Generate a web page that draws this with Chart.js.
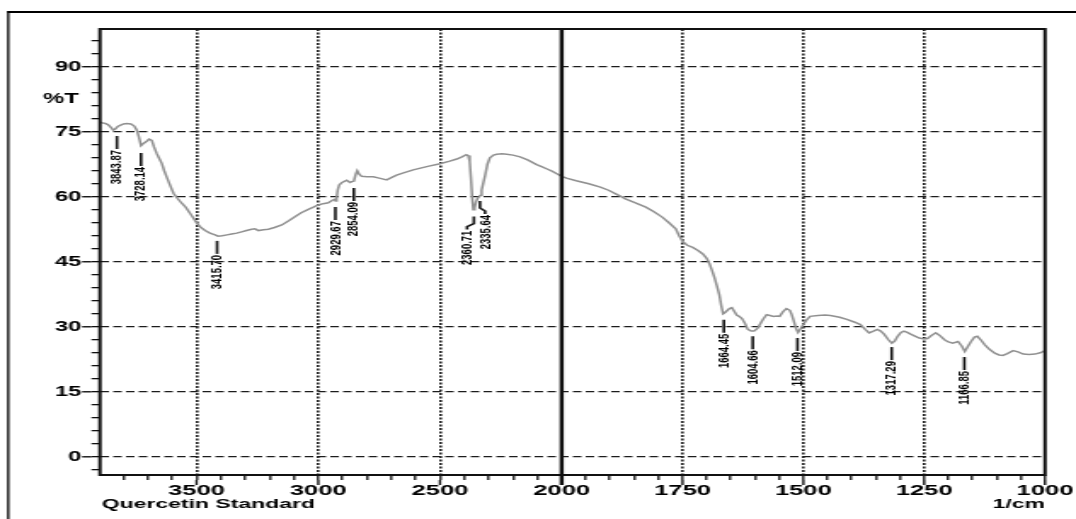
<!DOCTYPE html>
<html>
<head>
<meta charset="utf-8">
<title>Quercetin Standard</title>
<script src="https://cdn.jsdelivr.net/npm/chart.js@4.4.1/dist/chart.umd.min.js"></script>
<style>
    html, body { margin: 0; padding: 0; background: #fff; overflow: hidden; }
    /* the original print is stretched sideways, so the canvas is drawn narrow and widened */
    #wrap { width: 632px; height: 519px; transform: scaleX(1.7025); transform-origin: 0 0; }
</style>
</head>
<body>
<div id="wrap"><canvas id="myChart" width="632" height="519"></canvas></div>
<script>
// spectrum, 3897 - 2000 1/cm (compressed half of the axis)
const wnLeft = [
    3897, 3891, 3875, 3863, 3850, 3843, 3835, 3824, 3812, 3800,
    3787, 3770, 3756, 3746, 3737, 3728, 3718, 3705, 3695, 3684,
    3675, 3664, 3655, 3643, 3633, 3623, 3610, 3595, 3578, 3561,
    3545, 3527, 3512, 3499, 3482, 3465, 3445, 3424, 3412, 3395,
    3375, 3356, 3335, 3315, 3295, 3274, 3260, 3246, 3225, 3205,
    3180, 3150, 3120, 3096, 3070, 3041, 3020, 3000, 2980, 2959,
    2942, 2933, 2929, 2925, 2920, 2914, 2905, 2895, 2883, 2870,
    2862, 2854, 2846, 2840, 2832, 2822, 2800, 2774, 2750, 2719,
    2700, 2678, 2650, 2610, 2580, 2550, 2500, 2460, 2431, 2410,
    2392, 2384, 2378, 2373, 2368, 2363, 2358, 2352, 2346, 2340,
    2335, 2329, 2322, 2315, 2305, 2295, 2280, 2267, 2245, 2226,
    2200, 2171, 2140, 2103, 2080, 2060, 2040, 2020, 2000
]
const tLeft = [
    77.2, 77.1, 76.9, 76.6, 75.9, 75.4, 75.6, 76.2, 76.5, 76.8,
    76.9, 76.8, 76.3, 75.4, 73.8, 71.8, 72.3, 72.8, 73.3, 73.0,
    71.5, 70.0, 69.0, 67.7, 66.0, 64.6, 62.8, 60.8, 59.6, 58.5,
    57.6, 56.2, 55.0, 53.9, 52.9, 52.2, 51.6, 51.2, 50.9, 51.0,
    51.2, 51.4, 51.6, 51.9, 52.2, 52.5, 52.6, 52.2, 52.4, 52.5,
    52.9, 53.5, 54.5, 55.4, 56.3, 57.1, 57.6, 58.1, 58.4, 58.6,
    59.2, 59.4, 59.0, 59.6, 61.6, 62.7, 63.2, 63.5, 63.8, 63.3,
    63.5, 63.6, 65.2, 66.0, 65.2, 64.7, 64.6, 64.6, 64.3, 63.9,
    64.4, 65.0, 65.5, 66.2, 66.6, 67.0, 67.6, 68.2, 68.7, 69.2,
    69.7, 69.5, 68.2, 64.5, 60.0, 57.0, 57.4, 58.8, 59.6, 60.0,
    60.3, 61.5, 63.2, 64.8, 67.5, 69.0, 69.6, 69.8, 69.9, 69.8,
    69.6, 69.2, 68.5, 67.4, 66.9, 66.4, 65.9, 65.3, 64.7
]
// spectrum, 2000 - 1000 1/cm
const wnRight = [
    2000, 1990, 1970, 1944, 1920, 1903, 1885, 1868, 1850, 1826,
    1810, 1792, 1778, 1764, 1757, 1750, 1740, 1729, 1718, 1708,
    1700, 1694, 1689, 1684, 1679, 1674, 1670, 1666, 1662, 1658,
    1653, 1648, 1643, 1638, 1633, 1627, 1621, 1615, 1608, 1602,
    1595, 1590, 1583, 1576, 1569, 1562, 1555, 1549, 1542, 1535,
    1528, 1524, 1520, 1515, 1511, 1506, 1500, 1493, 1486, 1470,
    1455, 1444, 1425, 1410, 1395, 1382, 1372, 1364, 1355, 1347,
    1340, 1333, 1324, 1317, 1311, 1305, 1298, 1292, 1285, 1278,
    1268, 1260, 1250, 1243, 1235, 1226, 1218, 1208, 1200, 1191,
    1180, 1172, 1166, 1160, 1153, 1146, 1140, 1133, 1125, 1115,
    1104, 1095, 1087, 1078, 1066, 1056, 1045, 1033, 1021, 1010, 1000
]
const tRight = [
    64.7, 64.3, 63.7, 63.0, 62.2, 61.5, 60.5, 59.5, 58.7, 57.6,
    56.6, 55.3, 54.0, 52.6, 51.0, 49.7, 48.8, 48.3, 47.6, 46.8,
    45.8, 44.5, 43.0, 41.4, 39.5, 37.5, 35.0, 33.0, 33.3, 33.7,
    34.2, 34.4, 33.6, 32.7, 32.4, 31.9, 30.8, 29.4, 29.0, 29.0,
    29.6, 30.5, 31.8, 32.8, 32.6, 32.4, 32.5, 32.4, 33.5, 34.2,
    33.8, 32.8, 31.4, 29.6, 28.7, 29.5, 30.5, 31.6, 32.4, 32.6,
    32.7, 32.6, 32.2, 31.7, 31.1, 30.5, 29.4, 28.6, 29.0, 29.4,
    29.0, 28.3, 27.0, 26.2, 26.7, 27.8, 28.7, 29.0, 28.7, 28.3,
    27.8, 27.4, 27.2, 27.3, 28.0, 28.6, 28.0, 27.0, 26.5, 26.2,
    26.6, 25.5, 24.3, 25.4, 26.6, 27.6, 27.8, 27.0, 25.9, 24.8,
    23.9, 23.5, 23.4, 23.8, 24.5, 24.2, 23.7, 23.6, 23.7, 24.0, 24.5
]
// marked peaks
const peakWn = [3843.87, 3728.14, 3415.70, 2929.67, 2854.09, 2360.71, 2335.64, 1664.45, 1604.66, 1512.09, 1317.29, 1166.85]
const peakT = [75.4, 71.5, 51.2, 59.0, 63.4, 56.8, 60.4, 33.0, 29.2, 28.8, 26.7, 24.4]

// axes
const xLeftRange = [2000, 3897]
const xRightRange = [1000, 2000]
const yRange = [-4.2, 98.7]
const xMajorLeft = [3500, 3000, 2500]
const xMajorRight = [2000, 1750, 1500, 1250, 1000]
const yMajor = [0, 15, 30, 45, 60, 75, 90]
const yTitle = '%T'
const sampleName = 'Quercetin Standard'
const unitName = '1/cm'

const xLeftTicks = []
for (let v = 3800; v >= 2000; v -= 100) xLeftTicks.push(v)
const xRightTicks = []
for (let v = 2000; v >= 1000; v -= 50) xRightTicks.push(v)
const yTicks = []
for (let v = -3; v <= 96; v += 3) yTicks.push(v)

const fontFamily = '"Liberation Sans", Arial, Helvetica, sans-serif'
const clear = 'rgba(0,0,0,0)'
const gridInk = '#1c1c1c'

// labels nudged sideways where two peaks sit close together
const labelJog = { '2360.71': -4, '2335.64': 3 }
const labelShift = { '3843.87': 2.4 }

function seg(ctx, pts) {
    ctx.beginPath()
    ctx.moveTo(pts[0][0], pts[0][1])
    pts.slice(1).forEach(p => ctx.lineTo(p[0], p[1]))
    ctx.stroke()
}

const decorations = {
    id: 'decorations',
    afterDraw(chart) {
        const { ctx, chartArea: a, scales } = chart
        const y = scales.y, xl = scales.xLeft, xr = scales.xRight
        ctx.save()
        ctx.strokeStyle = '#111'
        ctx.fillStyle = '#000'

        //outer frame of the print
        ctx.fillRect(4.2, 11, 1.3, chart.height)
        ctx.fillRect(4.2, 11, chart.width, 2)

        //plot frame
        ctx.lineWidth = 2
        ctx.strokeRect(a.left, a.top, a.right - a.left, a.bottom - a.top)

        //axis break at 2000
        const xb = xr.getPixelForValue(2000)
        ctx.lineWidth = 2.4
        seg(ctx, [[xb, a.top], [xb, a.bottom + 10]])

        //long major ticks
        ctx.lineWidth = 1.4
        yMajor.forEach(v => {
            const py = y.getPixelForValue(v)
            seg(ctx, [[a.left - 10.5, py], [a.left - 5, py]])
        })
        xMajorLeft.forEach(v => {
            const px = xl.getPixelForValue(v)
            seg(ctx, [[px, a.bottom + 5], [px, a.bottom + 10]])
        })
        xMajorRight.forEach(v => {
            const px = xr.getPixelForValue(v)
            seg(ctx, [[px, a.bottom + 5], [px, a.bottom + 10]])
        })

        //texts
        ctx.font = 'bold 14px ' + fontFamily
        ctx.textAlign = 'right'
        ctx.textBaseline = 'middle'
        ctx.fillText(yTitle, a.left - 12.5, y.getPixelForValue(82.5))
        ctx.font = 'bold 13.5px ' + fontFamily
        ctx.textAlign = 'left'
        ctx.fillText(sampleName, a.left + 1, 504)
        ctx.textAlign = 'right'
        ctx.fillText(unitName, a.right, 504)

        //peak marks
        ctx.font = 'bold 9.5px ' + fontFamily
        peakWn.forEach((wn, i) => {
            const key = wn.toFixed(2)
            const scale = wn >= 2000 ? xl : xr
            const px = scale.getPixelForValue(wn) + (labelShift[key] || 0)
            const top = y.getPixelForValue(peakT[i]) + 6
            const jog = labelJog[key] || 0
            ctx.lineWidth = 1.6
            if (jog) {
                seg(ctx, [[px, top], [px, top + 7], [px + jog, top + 10], [px + jog, top + 13]])
            } else {
                seg(ctx, [[px, top], [px, top + 13]])
            }
            ctx.save()
            ctx.translate(px + jog, top + 14)
            ctx.rotate(-Math.PI / 2)
            ctx.textAlign = 'right'
            ctx.textBaseline = 'middle'
            ctx.fillText(key, 0, 0)
            ctx.restore()
        })
        ctx.restore()
    }
}

const noPadding = scale => {
    scale.paddingLeft = 0
    scale.paddingRight = 0
    scale.paddingTop = 0
    scale.paddingBottom = 0
}

const tickFont = size => ({ family: fontFamily, size: size, weight: 'bold' })

document.addEventListener('DOMContentLoaded', function () {
    const ctx = document.getElementById('myChart').getContext('2d')
    const chart = new Chart(ctx, {
        type: 'line',
        data: {
            datasets: [{
                data: wnLeft.map((w, i) => ({ x: w, y: tLeft[i] })),
                xAxisID: 'xLeft',
                yAxisID: 'y',
                borderColor: '#909090',
                borderWidth: 1.5,
                pointRadius: 0,
                tension: 0,
                fill: false
            }, {
                data: wnRight.map((w, i) => ({ x: w, y: tRight[i] })),
                xAxisID: 'xRight',
                yAxisID: 'y',
                borderColor: '#909090',
                borderWidth: 1.5,
                pointRadius: 0,
                tension: 0,
                fill: false
            }]
        },
        options: {
            responsive: false,
            animation: false,
            events: [],
            devicePixelRatio: 1,
            layout: { padding: { top: 29, right: 18.2, bottom: 0, left: 0 } },
            plugins: {
                legend: { display: false },
                tooltip: { enabled: false }
            },
            scales: {
                xLeft: {
                    type: 'linear',
                    position: 'bottom',
                    stack: 'wavenumber',
                    stackWeight: 0.9553,
                    reverse: true,
                    min: xLeftRange[0],
                    max: xLeftRange[1],
                    afterBuildTicks: s => { s.ticks = xLeftTicks.map(v => ({ value: v })) },
                    afterFit: s => { s.height = 44; noPadding(s) },
                    ticks: {
                        autoSkip: false,
                        maxRotation: 0,
                        padding: 2,
                        color: '#000',
                        font: tickFont(15),
                        callback: v => xMajorLeft.includes(v) ? String(v) : ''
                    },
                    grid: {
                        color: c => xMajorLeft.includes(c.tick.value) ? gridInk : clear,
                        lineWidth: 1.6,
                        tickColor: '#111',
                        tickLength: 5,
                        tickWidth: 1.3
                    },
                    border: { display: false, dash: [2, 1.5] }
                },
                xRight: {
                    type: 'linear',
                    position: 'bottom',
                    stack: 'wavenumber',
                    stackWeight: 1,
                    reverse: true,
                    min: xRightRange[0],
                    max: xRightRange[1],
                    afterBuildTicks: s => { s.ticks = xRightTicks.map(v => ({ value: v })) },
                    afterFit: s => { s.height = 44; noPadding(s) },
                    ticks: {
                        autoSkip: false,
                        maxRotation: 0,
                        padding: 2,
                        color: '#000',
                        font: tickFont(15),
                        callback: v => xMajorRight.includes(v) ? String(v) : ''
                    },
                    grid: {
                        color: c => (xMajorRight.includes(c.tick.value) && c.tick.value !== 2000 && c.tick.value !== 1000) ? gridInk : clear,
                        lineWidth: 1.6,
                        tickColor: '#111',
                        tickLength: 5,
                        tickWidth: 1.3
                    },
                    border: { display: false, dash: [2, 1.5] }
                },
                y: {
                    type: 'linear',
                    position: 'left',
                    min: yRange[0],
                    max: yRange[1],
                    afterBuildTicks: s => { s.ticks = yTicks.map(v => ({ value: v })) },
                    afterFit: s => { s.width = 58.7; noPadding(s) },
                    ticks: {
                        autoSkip: false,
                        padding: 6,
                        color: '#000',
                        font: tickFont(14),
                        callback: v => yMajor.includes(v) ? String(v) : ''
                    },
                    grid: {
                        color: c => yMajor.includes(c.tick.value) ? gridInk : clear,
                        lineWidth: 1.3,
                        tickColor: '#111',
                        tickLength: 5,
                        tickWidth: 1.3
                    },
                    border: { display: false, dash: [5, 2.5] }
                }
            }
        },
        plugins: [decorations]
    })
})
</script>
</body>
</html>
